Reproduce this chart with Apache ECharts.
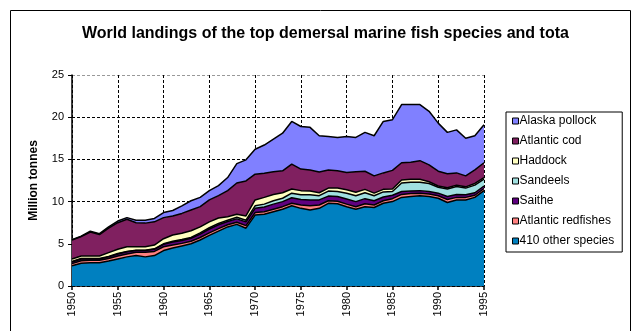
<!DOCTYPE html>
<html>
<head>
<meta charset="utf-8">
<script src="https://cdn.jsdelivr.net/npm/echarts@6/dist/echarts.min.js"></script>
<style>
  html, body { margin: 0; padding: 0; background: #fff; }
  #chart { width: 632px; height: 331px; }
</style>
</head>
<body>
<div id="chart"></div>
<script>
// years on the x axis
const years = []
for (let y = 1950; y <= 1995; y++) years.push(String(y))

// million tonnes (bottom layer first)
const otherSpecies = [2.4, 2.7, 2.75, 2.75, 2.95, 3.2, 3.45, 3.6, 3.45, 3.6,
    4.2, 4.5, 4.75, 5.0, 5.45, 6.0, 6.5, 7.0, 7.3, 6.85,
    8.4, 8.5, 8.8, 9.1, 9.5, 9.2, 9.0, 9.2, 9.8, 9.75,
    9.4, 9.1, 9.4, 9.3, 9.8, 10.0, 10.5, 10.6, 10.7, 10.6,
    10.4, 9.9, 10.2, 10.2, 10.5, 11.3]
const redfishes = [0.25, 0.3, 0.3, 0.3, 0.3, 0.35, 0.35, 0.4, 0.55, 0.5,
    0.45, 0.35, 0.3, 0.3, 0.3, 0.3, 0.3, 0.25, 0.25, 0.3,
    0.3, 0.3, 0.3, 0.3, 0.3, 0.4, 0.5, 0.4, 0.3, 0.3,
    0.3, 0.3, 0.35, 0.3, 0.3, 0.35, 0.35, 0.35, 0.3, 0.3,
    0.3, 0.35, 0.3, 0.3, 0.25, 0.25]
const saithe = [0.2, 0.2, 0.15, 0.15, 0.2, 0.25, 0.25, 0.2, 0.2, 0.25,
    0.3, 0.35, 0.35, 0.35, 0.4, 0.45, 0.45, 0.4, 0.4, 0.45,
    0.5, 0.55, 0.6, 0.6, 0.65, 0.65, 0.7, 0.6, 0.55, 0.55,
    0.6, 0.6, 0.6, 0.5, 0.45, 0.4, 0.35, 0.3, 0.3, 0.3,
    0.3, 0.35, 0.35, 0.3, 0.3, 0.3]
const sandeels = [0.05, 0.05, 0.05, 0.05, 0.05, 0.05, 0.05, 0.05, 0.05, 0.05,
    0.05, 0.1, 0.1, 0.1, 0.15, 0.15, 0.15, 0.15, 0.2, 0.2,
    0.3, 0.35, 0.4, 0.4, 0.55, 0.55, 0.6, 0.5, 0.6, 0.6,
    0.7, 0.7, 0.7, 0.6, 0.6, 0.45, 1.0, 1.05, 1.0, 0.95,
    0.7, 0.9, 0.95, 0.8, 0.9, 0.8]
const haddock = [0.3, 0.3, 0.3, 0.3, 0.45, 0.5, 0.55, 0.4, 0.4, 0.45,
    0.6, 0.75, 0.75, 0.8, 0.7, 0.7, 0.65, 0.4, 0.35, 0.5,
    0.7, 0.8, 0.75, 0.65, 0.5, 0.5, 0.45, 0.35, 0.35, 0.4,
    0.4, 0.4, 0.4, 0.3, 0.3, 0.3, 0.35, 0.35, 0.35, 0.2,
    0.15, 0.15, 0.15, 0.15, 0.2, 0.2]
const atlanticCod = [2.25, 2.3, 2.85, 2.55, 2.9, 3.15, 3.25, 2.85, 2.8, 2.75,
    2.5, 2.25, 2.35, 2.45, 2.4, 2.6, 2.65, 3.1, 3.7, 4.15,
    3.05, 2.85, 2.7, 2.6, 2.95, 2.55, 2.5, 2.45, 2.15, 2.05,
    2.05, 2.45, 2.15, 2.05, 1.95, 2.2, 2.05, 2.0, 2.2, 2.0,
    1.75, 1.65, 1.45, 1.3, 1.6, 1.75]
const alaskaPollock = [0.05, 0.05, 0.1, 0.1, 0.15, 0.2, 0.2, 0.3, 0.35, 0.4,
    0.6, 0.65, 0.9, 1.1, 1.1, 1.1, 1.2, 1.55, 2.3, 2.5,
    2.95, 3.35, 3.85, 4.45, 5.05, 5.05, 5.05, 4.3, 3.95, 3.95,
    4.25, 4.05, 4.6, 4.75, 6.1, 6.0, 6.9, 6.85, 6.65, 6.35,
    5.7, 4.9, 5.1, 4.45, 4.05, 4.5]

const layers = [
    { name: '410 other species', data: otherSpecies, color: '#0080c0' },
    { name: 'Atlantic redfishes', data: redfishes, color: '#ff8080' },
    { name: 'Saithe', data: saithe, color: '#600080' },
    { name: 'Sandeels', data: sandeels, color: '#a0e0e0' },
    { name: 'Haddock', data: haddock, color: '#ffffc0' },
    { name: 'Atlantic cod', data: atlanticCod, color: '#802060' },
    { name: 'Alaska pollock', data: alaskaPollock, color: '#8080ff' }
]

const font = 'Liberation Sans, Arial, sans-serif'
const myChart = echarts.init(document.getElementById('chart'))

myChart.setOption({
    animation: false,
    backgroundColor: '#fff',
    textStyle: { fontFamily: font },
    title: {
        text: 'World landings of the top demersal marine fish species and tota',
        left: 77,
        top: 21,
        textStyle: { fontSize: 16, fontWeight: 'bold', color: '#000', fontFamily: font }
    },
    graphic: [{
        type: 'rect',
        shape: { x: 10.5, y: 10.5, width: 620, height: 340 },
        style: { fill: null, stroke: '#000', lineWidth: 1 },
        silent: true
    }],
    legend: {
        orient: 'vertical',
        left: 506,
        top: 112,
        padding: [3, 8, 5, 6],
        itemGap: 8,
        itemWidth: 6,
        itemHeight: 6,
        icon: 'rect',
        borderColor: '#000',
        borderWidth: 1,
        itemStyle: { borderColor: '#000', borderWidth: 1 },
        textStyle: { fontSize: 12, lineHeight: 12, color: '#000', fontFamily: font, padding: [0, 0, 0, -4] },
        data: layers.map(l => l.name).reverse()
    },
    grid: {
        left: 72,
        right: 148,
        top: 75,
        bottom: 45
    },
    xAxis: {
        type: 'category',
        data: years,
        boundaryGap: false,
        axisLine: { lineStyle: { color: '#000', width: 1.5 } },
        axisTick: { interval: 4, length: 4, lineStyle: { color: '#000', width: 1.5 } },
        axisLabel: { interval: 4, rotate: 90, margin: 6, fontSize: 11, color: '#000', fontFamily: font },
        splitLine: {
            show: true,
            interval: 4,
            lineStyle: { color: '#000', type: [3, 2], width: 1 }
        }
    },
    yAxis: {
        type: 'value',
        min: 0,
        max: 25,
        interval: 5,
        name: 'Million tonnes',
        nameLocation: 'middle',
        nameGap: 32,
        nameTextStyle: { fontSize: 12, fontWeight: 'bold', color: '#000', fontFamily: font },
        axisLine: { show: true, lineStyle: { color: '#000', width: 1.5 } },
        axisTick: { show: true, length: 4, lineStyle: { color: '#000', width: 1 } },
        axisLabel: { fontSize: 11, color: '#000', margin: 8, fontFamily: font },
        splitLine: {
            lineStyle: { color: ['#000', '#000', '#000', '#000', '#000', '#999'], type: [3, 2], width: 1 }
        }
    },
    series: layers.map(l => ({
        name: l.name,
        type: 'line',
        stack: 'total',
        data: l.data,
        showSymbol: false,
        symbol: 'none',
        itemStyle: { color: l.color },
        lineStyle: { color: '#000', width: 1.5 },
        areaStyle: { color: l.color, opacity: 1 }
    }))
})
</script>
</body>
</html>
